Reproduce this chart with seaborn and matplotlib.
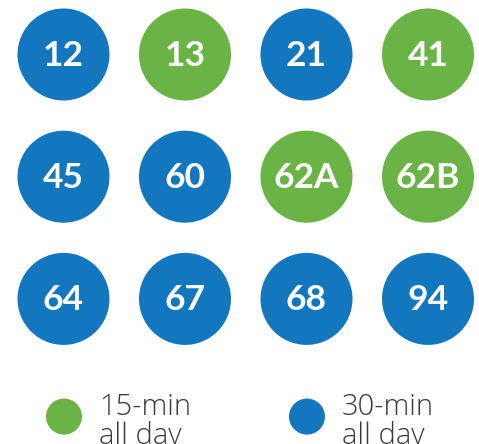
import matplotlib
matplotlib.use("Agg")
import matplotlib.pyplot as plt
import seaborn as sns
import pandas as pd

# ---- data ----
routes = ["12", "13", "21", "41", "45", "60", "62A", "62B", "64", "67", "68", "94"]
frequency = ["30-min", "15-min", "30-min", "15-min",
             "30-min", "30-min", "15-min", "15-min",
             "30-min", "30-min", "30-min", "30-min"]
legend_labels = ["15-min\nall day", "30-min\nall day"]
palette = {"15-min": "#6ab446", "30-min": "#1377c0"}

n_cols = 4
df = pd.DataFrame({
    "route": routes,
    "freq": frequency,
    "col": [i % n_cols for i in range(len(routes))],
    "row": [i // n_cols for i in range(len(routes))],
})

sns.set_theme(style="white")
plt.rcParams["font.family"] = ["Lato", "DejaVu Sans"]

fig = plt.figure(figsize=(4.79, 4.44), dpi=100)
ax = fig.add_axes([0, 0, 1, 1])

sns.scatterplot(data=df, x="col", y="row", hue="freq", palette=palette,
                s=4390, linewidth=0, legend=False, ax=ax)

for _, r in df.iterrows():
    ax.text(r["col"], r["row"] + 0.012, r["route"], color="white", fontsize=25.5,
            fontweight="bold", ha="center", va="center", family=["Lato", "DejaVu Sans"])

# legend
leg_df = pd.DataFrame({"col": [0.004, 2.004], "row": [2.963, 2.963],
                       "freq": ["15-min", "30-min"]})
sns.scatterplot(data=leg_df, x="col", y="row", hue="freq", palette=palette,
                s=672, linewidth=0, legend=False, ax=ax)
for c, lab in zip([0.293, 2.293], legend_labels):
    ax.text(c, 3.005, lab, color="#3a3a3a", fontsize=21, fontweight="light",
            ha="left", va="center", linespacing=0.98, family=["Open Sans", "DejaVu Sans"])

ax.set_xlim(-63.5 / 121.5, (479 - 63.5) / 121.5)
ax.set_ylim((444 - 54.5) / 122.2, -54.5 / 122.2)
ax.axis("off")

fig.savefig("out.png", dpi=100)
